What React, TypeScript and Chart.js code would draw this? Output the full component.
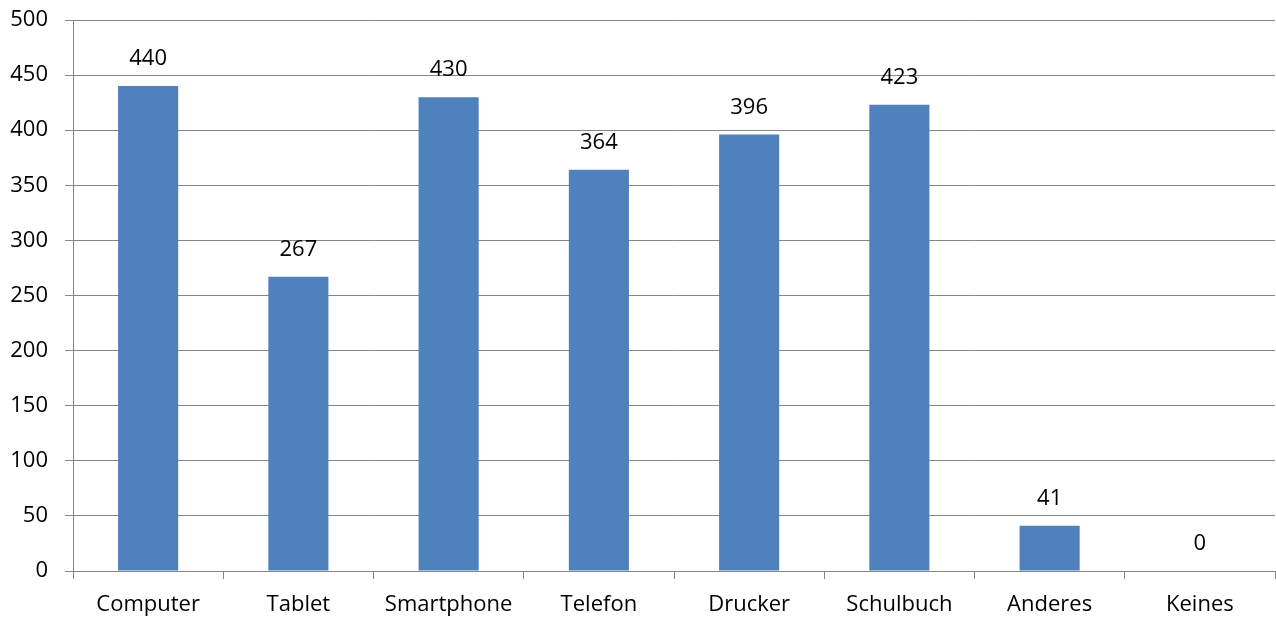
import React, { useEffect, useRef } from "react";
import { Chart, registerables } from "chart.js";

Chart.register(...registerables);

const categories = ["Computer", "Tablet", "Smartphone", "Telefon", "Drucker", "Schulbuch", "Anderes", "Keines"];
const values = [440, 267, 430, 364, 396, 423, 41, 0];
const yTicks = [0, 50, 100, 150, 200, 250, 300, 350, 400, 450, 500];

const FONT = "'Open Sans', sans-serif";
const SIZE = 22;

const labelPlugin = {
  id: "valueLabels",
  afterDatasetsDraw(chart: any) {
    const ctx = chart.ctx;
    const meta = chart.getDatasetMeta(0);
    ctx.save();
    ctx.fillStyle = "#000";
    ctx.font = `${SIZE}px ${FONT}`;
    ctx.textAlign = "center";
    ctx.textBaseline = "middle";
    meta.data.forEach((el: any, i: number) => {
      ctx.fillText(String(values[i]), el.x, el.y - 27);
    });
    ctx.restore();
  },
};

export default function App() {
  const ref = useRef<HTMLCanvasElement>(null);
  useEffect(() => {
    const chart = new Chart(ref.current!, {
      type: "bar",
      data: {
        labels: categories,
        datasets: [
          {
            data: values,
            backgroundColor: "#4F81BD",
            categoryPercentage: 1,
            barPercentage: 0.4,
          },
        ],
      },
      options: {
        animation: false,
        responsive: false,
        layout: { padding: { top: 20, right: 1, left: 0, bottom: 0 } },
        plugins: { legend: { display: false }, tooltip: { enabled: false } },
        scales: {
          x: {
            offset: true,
            grid: {
              offset: true,
              drawOnChartArea: false,
              drawTicks: true,
              tickLength: 8,
              color: "#868686",
            },
            border: { color: "#868686" },
            ticks: { color: "#000", font: { family: FONT, size: SIZE }, padding: 13, maxRotation: 0 },
            afterFit: (s: any) => { s.height = 47; s.paddingLeft = 0; s.paddingRight = 0; },
          },
          y: {
            min: 0,
            max: 500,
            afterBuildTicks: (s: any) => { s.ticks = yTicks.map((v) => ({ value: v })); },
            grid: { color: "#868686", tickLength: 8 },
            border: { color: "#868686" },
            ticks: { color: "#000", font: { family: FONT, size: SIZE }, padding: 17 },
            afterFit: (s: any) => { s.width = 73; s.paddingTop = 0; s.paddingBottom = 0; },
          },
        },
      },
      plugins: [labelPlugin],
    });
    return () => chart.destroy();
  }, []);
  return (
    <div style={{ position: "absolute", left: 0, top: 0, width: 1276, height: 618, background: "#fff" }}>
      <canvas ref={ref} width={1276} height={618} />
    </div>
  );
}
